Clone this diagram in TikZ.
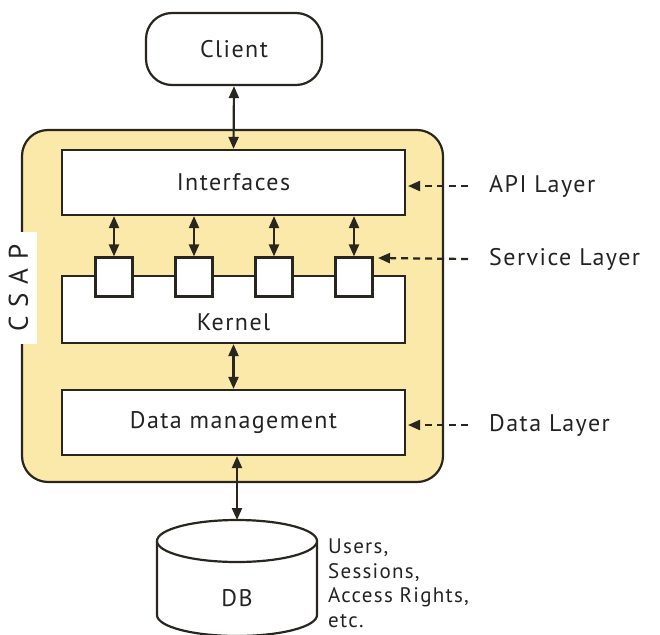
\documentclass[tikz,border=0pt]{standalone}
\usepackage{fontspec}
\setmainfont[LetterSpace=6]{PT Sans}
\newfontfamily\spaced[LetterSpace=32]{PT Sans}
\usetikzlibrary{arrows.meta}
\definecolor{csapfill}{RGB}{251,233,170}
\definecolor{edge}{RGB}{40,38,30}
\definecolor{txt}{RGB}{35,35,35}
\tikzset{
  lbl/.style={font=\fontsize{24}{28}\selectfont, text=txt},
  box/.style={draw=edge, line width=2.2pt, fill=white, inner sep=0pt},
  sq/.style={box, minimum width=37pt, minimum height=39pt},
  dbl/.style={line width=2.2pt, draw=edge, {Triangle[length=12pt,width=10pt]}-{Triangle[length=12pt,width=10pt]}},
  dsh/.style={line width=2.2pt, draw=edge, dash pattern=on 7pt off 5pt, -{Triangle[length=12pt,width=10pt]}}
}
\begin{document}
\begin{tikzpicture}[x=1pt,y=-1pt]
\useasboundingbox (0,0) rectangle (660,634);
% CSAP container
\draw[draw=edge, line width=2.2pt, fill=csapfill, rounded corners=26pt] (22,130) rectangle (443,482);
\node[fill=white, rotate=90, inner xsep=2pt, inner ysep=2pt, minimum height=37pt, minimum width=112pt, font=\spaced\fontsize{27}{30}\selectfont, text=txt] (csap) at (18.5,288) {CSAP};
% Client
\node[box, rounded corners=26pt, minimum width=176pt, minimum height=72pt, lbl] (client) at (234,49) {Client};
% Interfaces
\node[box, minimum width=343pt, minimum height=65pt, lbl] (iface) at (233.5,182.5) {Interfaces};
% Kernel
\node[box, minimum width=343pt, minimum height=67pt] (kernel) at (233.5,309.5) {};
\node[lbl] (ktext) at (233.5,322) {Kernel};
% Service squares
\node[sq] (s1) at (114,277) {};
\node[sq] (s2) at (194,277) {};
\node[sq] (s3) at (274,277) {};
\node[sq] (s4) at (354,277) {};
% Data management
\node[box, minimum width=343pt, minimum height=65pt, lbl] (dm) at (233.5,422.5) {Data management};
% DB cylinder
\coordinate (dbtop) at (237,520);
\draw[draw=edge, line width=2.2pt, fill=white] (157,541) -- (157,615) arc[start angle=180, end angle=0, x radius=80, y radius=21] -- (317,541);
\draw[draw=edge, line width=2.2pt, fill=white] (237,541) ellipse[x radius=80, y radius=21];
\node[lbl] (dbl) at (237,598) {DB};
\node[lbl, anchor=north west, align=left, font=\fontsize{21}{24.5}\selectfont, inner sep=2pt] (dbnote) at (326,537) {Users,\\Sessions,\\Access Rights,\\etc.};
% connectors
\draw[dbl] (client.south) -- (iface.north);
\draw[dbl] (iface.south -| s1) -- (s1.north);
\draw[dbl] (iface.south -| s2) -- (s2.north);
\draw[dbl] (iface.south -| s3) -- (s3.north);
\draw[dbl] (iface.south -| s4) -- (s4.north);
\draw[dbl] (kernel.south) -- (dm.north);
\draw[dbl] (dm.south -| dbtop) -- (dbtop);
% layer labels
\node[lbl, anchor=west, inner sep=2pt] (api) at (487,186) {API Layer};
\node[lbl, anchor=west, inner sep=2pt] (svc) at (487,259) {Service Layer};
\node[lbl, anchor=west, inner sep=2pt] (data) at (487,425) {Data Layer};
\coordinate (apitip) at (408,186);
\coordinate (svctip) at (378,258);
\coordinate (datatip) at (408,425);
\draw[dsh] (api.west) ++(-19,0) coordinate (a0) (a0) -- (apitip);
\draw[dsh] (svc.west) ++(-19,0) coordinate (b0) (b0) -- (svctip);
\draw[dsh] (data.west) ++(-19,0) coordinate (c0) (c0) -- (datatip);
\end{tikzpicture}
\end{document}
